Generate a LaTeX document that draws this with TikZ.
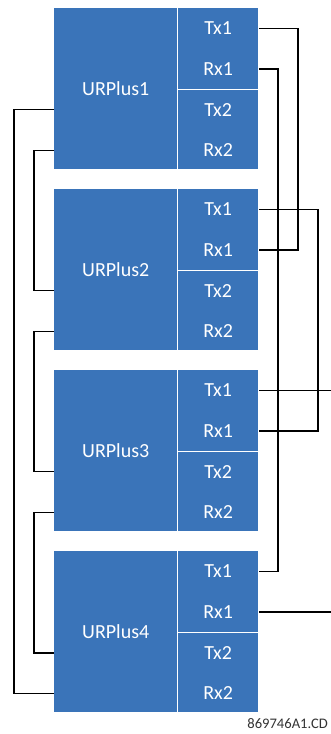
\documentclass[tikz,border=0pt]{standalone}
\usepackage{fontspec}
\setmainfont{Carlito}
\usetikzlibrary{positioning}
\definecolor{urblue}{HTML}{3A74B9}
\definecolor{codegray}{HTML}{333333}
\tikzset{
  unit/.style={rectangle, fill=urblue, minimum width=123pt, minimum height=161pt, inner sep=0pt, text=white, font=\fontsize{20}{22}\selectfont},
  port/.style={rectangle, minimum width=81pt, minimum height=40.25pt, inner sep=0pt, text=white, font=\fontsize{20}{22}\selectfont},
  sep/.style={draw=white, line width=1.5pt},
  link/.style={draw=black, line width=1.4pt},
  code/.style={font=\fontsize{14.6}{16}\selectfont, text=codegray, inner sep=0pt}
}
\begin{document}
\begin{tikzpicture}[node distance=19.67pt]
\useasboundingbox (0,0) rectangle (331pt,-734pt);
\coordinate (edgeR) at (331pt,0);
\node[unit, anchor=north west] (u1) at (54pt,-8pt) {URPlus1};
\node[unit, below=of u1] (u2) {URPlus2};
\node[unit, below=of u2] (u3) {URPlus3};
\node[unit, below=of u3] (u4) {URPlus4};
\foreach \i in {1,...,4} {
  \fill[urblue] (u\i.north east) rectangle ++(81pt,-161pt);
  \node[port, anchor=north west] (p\i-tx1) at (u\i.north east) {Tx1};
  \node[port, below=0pt of p\i-tx1] (p\i-rx1) {Rx1};
  \node[port, below=0pt of p\i-rx1] (p\i-tx2) {Tx2};
  \node[port, below=0pt of p\i-tx2] (p\i-rx2) {Rx2};
  \draw[sep] (u\i.north east) -- (u\i.south east);
  \draw[sep] (p\i-rx1.south west) -- (p\i-rx1.south east);
}
% ring on the left side
\draw[link] (u1.west |- p1-tx2) -- ++(-40pt,0) |- (u4.west |- p4-rx2);
\foreach \a/\b in {1/2,2/3,3/4}
  \draw[link] (u\a.west |- p\a-rx2) -- ++(-20pt,0) |- (u\b.west |- p\b-tx2);
% Tx1/Rx1 links on the right side
\draw[link] (p1-tx1.east) -- ++(39pt,0) |- (p2-rx1.east);
\draw[link] (p1-rx1.east) -- ++(19pt,0) |- (p4-tx1.east);
\draw[link] (p2-tx1.east) -- ++(59pt,0) |- (p3-rx1.east);
\draw[link] (p3-tx1.east) -- (p3-tx1.east -| edgeR);
\draw[link] (p4-rx1.east) -- (p4-rx1.east -| edgeR);
\node[code, anchor=base east] (tag) at (328pt,-728pt) {869746A1.CD};
\end{tikzpicture}
\end{document}
